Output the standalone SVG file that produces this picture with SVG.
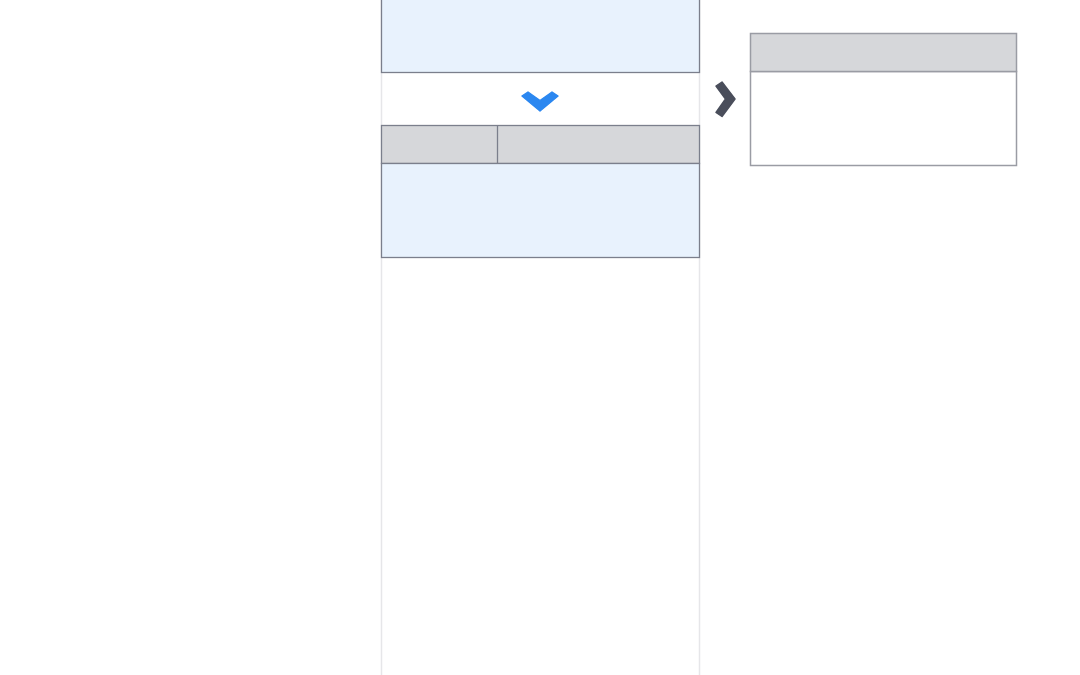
<svg xmlns="http://www.w3.org/2000/svg" width="1080" height="675" viewBox="0 0 1080 675">
<style>
.col{stroke:#e6e6e9;stroke-width:1.5;fill:none}
.blue{fill:#e8f2fd;stroke:#7b7f8c;stroke-width:1.3}
.hdr{fill:#d6d7da;stroke:#7b7f8c;stroke-width:1.3}
.card{fill:#ffffff;stroke:#9a9ca4;stroke-width:1.5}
.card-hdr{fill:#d6d7da;stroke:#9a9ca4;stroke-width:1.5}
</style>
<rect width="1080" height="675" fill="#ffffff"/>
<g id="column">
<line class="col" x1="381.5" y1="0" x2="381.5" y2="675"/>
<line class="col" x1="699.5" y1="0" x2="699.5" y2="675"/>
</g>
<g id="top-block">
<rect class="blue" x="381.5" y="-2" width="318" height="74.5"/>
</g>
<g id="table-block">
<rect class="hdr" x="381.5" y="125.5" width="318" height="38"/>
<line stroke="#7b7f8c" stroke-width="1.3" x1="497.5" y1="125.5" x2="497.5" y2="163.5"/>
<rect class="blue" x="381.5" y="163.5" width="318" height="94"/>
</g>
<g id="side-card">
<rect class="card" x="750.5" y="71.5" width="266" height="94"/>
<rect class="card-hdr" x="750.5" y="33.5" width="266" height="38"/>
</g>
<g id="connectors">
<polygon fill="#2b87f0" stroke="#2b87f0" stroke-width="1.5" stroke-linejoin="round" points="522,96 528,92 540,100.5 552,92 558,96 540,111"/>
<polygon fill="#4a4e5b" stroke="#4a4e5b" stroke-width="1.5" stroke-linejoin="round" points="716,86 722,82 735,99 722,116.5 716,112.5 725.5,99"/>
</g>
</svg>
